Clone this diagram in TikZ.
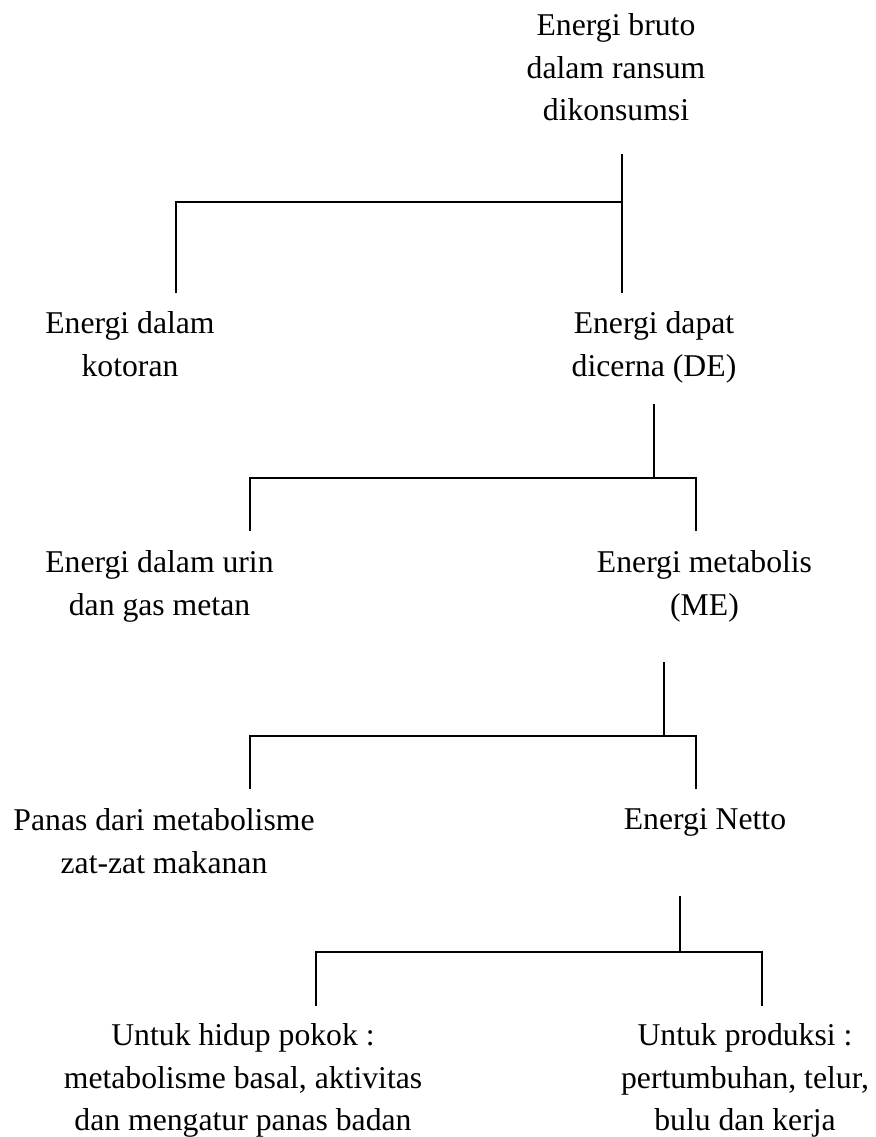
\documentclass[tikz,border=0pt]{standalone}
\usepackage{fontspec}
\setmainfont{Liberation Serif}
\begin{document}
\begin{tikzpicture}[x=1pt,y=-1pt,
  lbl/.style={anchor=north,inner sep=0pt,align=center,font=\fontsize{31.7}{42.5}\selectfont},
  conn/.style={line width=1.8pt,line cap=rect,line join=miter}]
\useasboundingbox (0,0) rectangle (875,1137);
% text nodes
\node[lbl] (gross) at (616,13.35) {Energi bruto\\dalam ransum\\dikonsumsi};
\node[lbl] (feces) at (130,311.35) {Energi dalam\\kotoran};
\node[lbl] (de) at (654,311.35) {Energi dapat\\dicerna (DE)};
\node[lbl] (urine) at (159.5,550.35) {Energi dalam urin\\dan gas metan};
\node[lbl] (me) at (704.5,550.35) {Energi metabolis\\(ME)};
\node[lbl] (heat) at (164,808.35) {Panas dari metabolisme\\zat-zat makanan};
\node[lbl] (ne) at (705,808.35) {Energi Netto};
\node[lbl] (maint) at (243,1023.35) {Untuk hidup pokok :\\metabolisme basal, aktivitas\\dan mengatur panas badan};
\node[lbl] (prod) at (745,1023.35) {Untuk produksi :\\pertumbuhan, telur,\\bulu dan kerja};
% connector coordinates
\coordinate (p1) at (622,155); \coordinate (j1) at (622,202);
\coordinate (l1) at (176,292); \coordinate (r1) at (622,292);
\coordinate (p2) at (654,405); \coordinate (j2) at (654,478);
\coordinate (l2) at (250,530); \coordinate (r2) at (696,530);
\coordinate (p3) at (664,663); \coordinate (j3) at (664,736);
\coordinate (l3) at (250,788); \coordinate (r3) at (696,788);
\coordinate (p4) at (680,897); \coordinate (j4) at (680,952);
\coordinate (l4) at (316,1005); \coordinate (r4) at (762,1005);
% connectors
\draw[conn] (p1) -- (r1);
\draw[conn] (l1) |- (j1);
\draw[conn] (p2) -- (j2);
\draw[conn] (l2) |- (j2) -| (r2);
\draw[conn] (p3) -- (j3);
\draw[conn] (l3) |- (j3) -| (r3);
\draw[conn] (p4) -- (j4);
\draw[conn] (l4) |- (j4) -| (r4);
\end{tikzpicture}
\end{document}
